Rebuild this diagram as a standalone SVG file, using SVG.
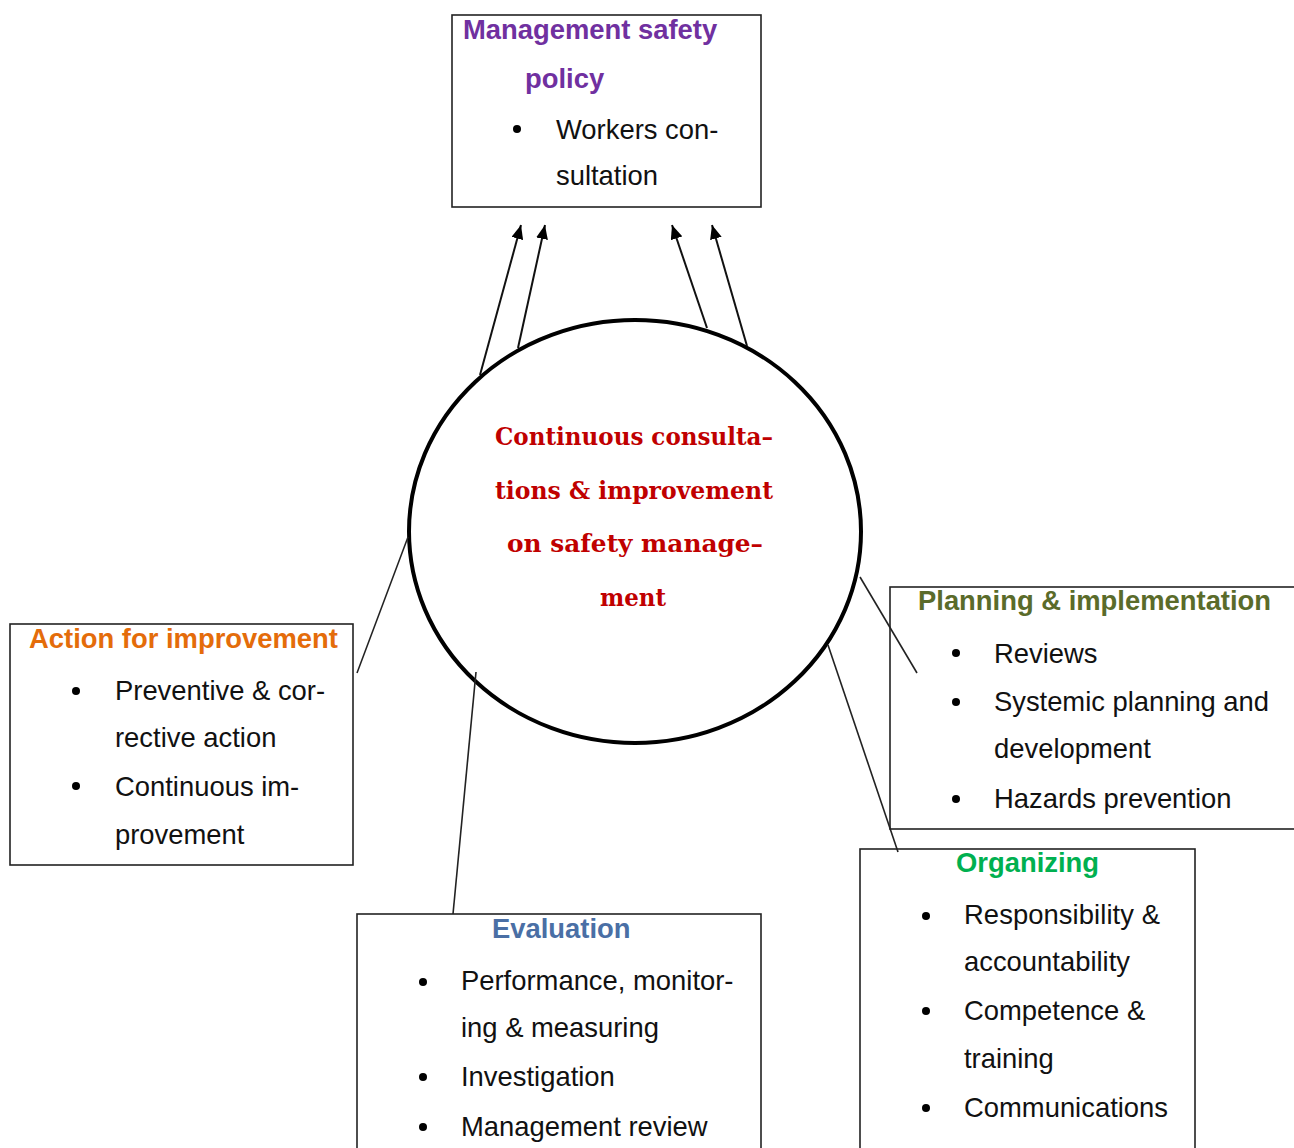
<svg xmlns="http://www.w3.org/2000/svg" width="1294" height="1148" viewBox="0 0 1294 1148">
  <style>
    .box { fill: #ffffff; stroke: #222222; stroke-width: 1.6; }
    .title { font-family: "Liberation Sans", Arial, sans-serif; font-weight: bold; font-size: 27.4px; }
    .body { font-family: "Liberation Sans", Arial, sans-serif; font-size: 27.4px; fill: #111111; }
    .center { font-family: "DejaVu Serif", "Liberation Serif", serif; font-weight: bold; font-size: 24px; fill: #C00000; }
    .bullet { fill: #000000; }
    .link { stroke: #222222; stroke-width: 1.6; fill: none; }
    .arrow { stroke: #111111; stroke-width: 2; fill: none; }
  </style>
  <defs>
    <marker id="tip" viewBox="0 0 14 12" refX="14" refY="6" markerWidth="14" markerHeight="12" markerUnits="userSpaceOnUse" orient="auto">
      <path d="M0,0 L14,6 L0,12 Z" fill="#000000"/>
    </marker>
  </defs>
  <rect width="1294" height="1148" fill="#ffffff"/>

  <!-- management safety policy -->
  <g id="policy">
    <rect class="box" x="452" y="15" width="309" height="192"/>
    <text class="title" x="463" y="39" fill="#7030A0">Management safety</text>
    <text class="title" x="525" y="88" fill="#7030A0">policy</text>
    <circle class="bullet" cx="517" cy="129" r="4"/>
    <text class="body" x="556" y="139">Workers con-</text>
    <text class="body" x="556" y="185">sultation</text>
  </g>

  <!-- action for improvement -->
  <g id="action">
    <rect class="box" x="10" y="624" width="343" height="241"/>
    <text class="title" x="29" y="648" fill="#E46C0A">Action for improvement</text>
    <circle class="bullet" cx="76" cy="691" r="4"/>
    <text class="body" x="115" y="700">Preventive &amp; cor-</text>
    <text class="body" x="115" y="747">rective action</text>
    <circle class="bullet" cx="76" cy="786" r="4"/>
    <text class="body" x="115" y="796">Continuous im-</text>
    <text class="body" x="115" y="844">provement</text>
  </g>

  <!-- planning & implementation -->
  <g id="planning">
    <rect class="box" x="890" y="587" width="410" height="242"/>
    <text class="title" x="918" y="610" fill="#5A6B2A">Planning &amp; implementation</text>
    <circle class="bullet" cx="956" cy="653" r="4"/>
    <text class="body" x="994" y="663">Reviews</text>
    <circle class="bullet" cx="956" cy="702" r="4"/>
    <text class="body" x="994" y="711" textLength="275" lengthAdjust="spacing">Systemic planning and</text>
    <text class="body" x="994" y="758">development</text>
    <circle class="bullet" cx="956" cy="799" r="4"/>
    <text class="body" x="994" y="808">Hazards prevention</text>
  </g>

  <!-- organizing -->
  <g id="organizing">
    <rect class="box" x="860" y="849" width="335" height="310"/>
    <text class="title" x="956" y="872" fill="#00B050">Organizing</text>
    <circle class="bullet" cx="926" cy="916" r="4"/>
    <text class="body" x="964" y="924" textLength="196" lengthAdjust="spacing">Responsibility &amp;</text>
    <text class="body" x="964" y="971">accountability</text>
    <circle class="bullet" cx="926" cy="1011" r="4"/>
    <text class="body" x="964" y="1020">Competence &amp;</text>
    <text class="body" x="964" y="1068">training</text>
    <circle class="bullet" cx="926" cy="1108" r="4"/>
    <text class="body" x="964" y="1117">Communications</text>
  </g>

  <!-- evaluation -->
  <g id="evaluation">
    <rect class="box" x="357" y="914" width="404" height="250"/>
    <text class="title" x="492" y="938" fill="#4A6FA5">Evaluation</text>
    <circle class="bullet" cx="423" cy="982" r="4"/>
    <text class="body" x="461" y="990">Performance, monitor-</text>
    <text class="body" x="461" y="1037">ing &amp; measuring</text>
    <circle class="bullet" cx="423" cy="1077" r="4"/>
    <text class="body" x="461" y="1086">Investigation</text>
    <circle class="bullet" cx="423" cy="1127" r="4"/>
    <text class="body" x="461" y="1136">Management review</text>
  </g>

  <!-- hub -->
  <g id="hub">
    <ellipse cx="635" cy="531.5" rx="226" ry="211.5" fill="#ffffff" stroke="#000000" stroke-width="4"/>
    <text class="center" x="495" y="445" textLength="278" lengthAdjust="spacingAndGlyphs">Continuous consulta–</text>
    <text class="center" x="495" y="499" textLength="278" lengthAdjust="spacingAndGlyphs">tions &amp; improvement</text>
    <text class="center" x="507" y="552" textLength="256" lengthAdjust="spacingAndGlyphs">on safety manage–</text>
    <text class="center" x="600" y="606" textLength="66" lengthAdjust="spacingAndGlyphs">ment</text>
  </g>

  <!-- connectors, drawn on top of boxes and hub -->
  <g id="connectors">
    <line class="arrow" x1="480" y1="375" x2="521" y2="225" marker-end="url(#tip)"/>
    <line class="arrow" x1="518" y1="348" x2="545" y2="225" marker-end="url(#tip)"/>
    <line class="arrow" x1="707" y1="328" x2="672" y2="225" marker-end="url(#tip)"/>
    <line class="arrow" x1="747" y1="346" x2="712" y2="225" marker-end="url(#tip)"/>
    <line class="link" x1="408" y1="537" x2="357" y2="673"/>
    <line class="link" x1="476" y1="672" x2="453" y2="914"/>
    <line class="link" x1="860" y1="577" x2="917" y2="673"/>
    <line class="link" x1="828" y1="645" x2="898" y2="852"/>
  </g>
</svg>
